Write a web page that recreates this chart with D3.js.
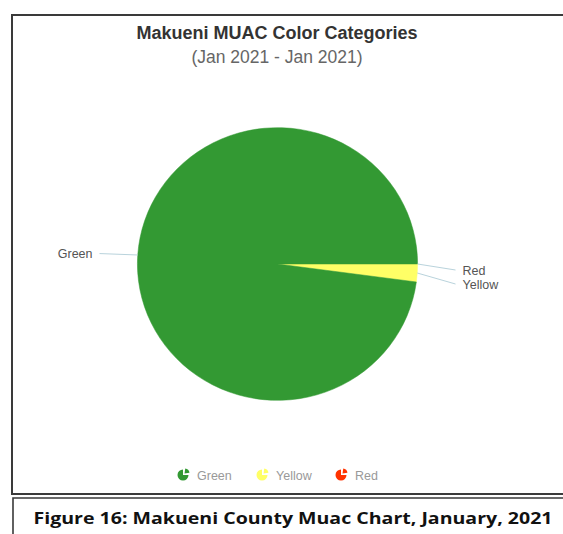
<!DOCTYPE html>
<html>
<head>
<meta charset="utf-8">
<script src="https://cdn.jsdelivr.net/npm/d3@7"></script>
<style>
  html, body { margin: 0; padding: 0; background: #fff; }
  svg { display: block; }
</style>
</head>
<body>
<svg id="chart" width="563" height="534"></svg>
<script>
// MUAC colour categories, Makueni, January 2021
const categories = ["Green", "Yellow", "Red"];
const values = [930, 20, 0];
const colors = ["#339933", "#ffff66", "#ff3300"];
const titleText = "Makueni MUAC Color Categories";
const subtitleText = "(Jan 2021 - Jan 2021)";
const captionText = "Figure 16: Makueni County Muac Chart, January, 2021";

const svg = d3.select("#chart");
const font = "'Liberation Sans', Arial, Helvetica, sans-serif";

// frame around the chart and the caption box
const frame = svg.append("g").attr("stroke", "#3a3a3a").attr("fill", "none").attr("stroke-width", 2);
frame.append("path").attr("d", "M563,15 H12 V494 H563");
frame.append("path").attr("d", "M563,498 H13 V534").attr("stroke-width", 1.6);

// titles
svg.append("text").attr("x", 277).attr("y", 39).attr("text-anchor", "middle")
  .attr("font-family", font).attr("font-size", 18).attr("font-weight", "bold")
  .attr("fill", "#333").text(titleText);
svg.append("text").attr("x", 277).attr("y", 63).attr("text-anchor", "middle")
  .attr("font-family", font).attr("font-size", 17.5).attr("fill", "#666").text(subtitleText);

// pie — drawn clockwise from 3 o'clock, smallest categories first
const cx = 277.5, cy = 264, r = 138;
const order = [2, 1, 0];
const data = order.map(i => ({ name: categories[i], value: values[i], color: colors[i] }));
const pie = d3.pie().sort(null).value(d => d.value)
  .startAngle(Math.PI / 2).endAngle(Math.PI / 2 + 2 * Math.PI);
const arcs = pie(data);
const arc = d3.arc().innerRadius(0).outerRadius(r);

const g = svg.append("g").attr("transform", `translate(${cx},${cy})`);
g.append("g").attr("transform", "scale(1.015,0.988)")
  .selectAll("path.slice").data(arcs.filter(a => a.value > 0)).join("path")
  .attr("class", "slice").attr("d", arc).attr("fill", d => d.data.color)
  .attr("stroke", d => d.data.color).attr("stroke-width", 0.5);

// data labels with connectors, pushed apart on each side
const labelDist = 185;
const items = arcs.map(a => {
  const mid = (a.startAngle + a.endAngle) / 2;
  const sx = Math.sin(mid), sy = -Math.cos(mid);
  return { a, mid, right: sx > 0, ex: r * 1.015 * sx, ey: r * 0.988 * sy, ly: (r + 20) * sy };
});
["right", "left"].forEach(side => {
  const list = items.filter(d => (side === "right") === d.right).sort((p, q) => p.ly - q.ly);
  for (let i = 1; i < list.length; i++) {
    if (list[i].ly < list[i - 1].ly + 14) list[i].ly = list[i - 1].ly + 14;
  }
  // a stacked cluster settles a little below its slices
  if (list.length > 1) list.forEach(d => { d.ly += 6; });
});
items.forEach(d => {
  const dir = d.right ? 1 : -1;
  const lx = dir * labelDist;
  g.append("line")
    .attr("x1", d.ex).attr("y1", d.ey).attr("x2", lx - dir * 7).attr("y2", d.ly)
    .attr("stroke", "#b9d3dc").attr("stroke-width", 1);
  g.append("text").attr("x", lx).attr("y", d.ly + 4.5)
    .attr("text-anchor", d.right ? "start" : "end")
    .attr("font-family", font).attr("font-size", 12.5).attr("fill", "#555")
    .text(d.a.data.name);
});

// legend with small pie icons
const legendX = [183, 262, 341];
const icon = d3.arc().innerRadius(0).outerRadius(5.5);
const wedge = d3.arc().innerRadius(0).outerRadius(5);
const legend = svg.append("g");
categories.forEach((name, i) => {
  const lg = legend.append("g").attr("transform", `translate(${legendX[i]},475)`);
  lg.append("path").attr("d", icon({ startAngle: Math.PI / 2, endAngle: 2 * Math.PI })).attr("fill", colors[i]);
  lg.append("path").attr("transform", "translate(1.5,-1.5)")
    .attr("d", wedge({ startAngle: 0.15, endAngle: Math.PI / 2 - 0.15 })).attr("fill", colors[i]);
  lg.append("text").attr("x", 14).attr("y", 4.5).attr("font-family", font).attr("font-size", 12.5)
    .attr("fill", "#999").text(name);
});

// caption
svg.append("text").attr("x", 293).attr("y", 524).attr("text-anchor", "middle")
  .attr("font-family", "'Open Sans', 'Noto Sans', sans-serif").attr("font-weight", "bold")
  .attr("font-size", 16.5).attr("fill", "#111")
  .attr("textLength", 519).attr("lengthAdjust", "spacingAndGlyphs")
  .text(captionText);
</script>
</body>
</html>
